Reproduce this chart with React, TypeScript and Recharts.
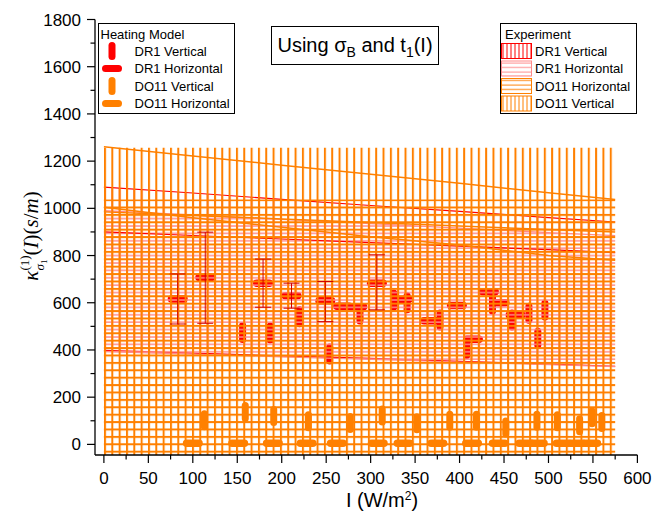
import React from 'react';
import { ComposedChart, Area, Line, Scatter, ErrorBar, XAxis, YAxis } from 'recharts';

// experiment bands, sampled at these intensities
const expX = [0, 100, 200, 300, 400, 500, 575];
const do11VertLow = [-45, -45, -45, -45, -45, -45, -45];
const do11VertHigh = [1257, 1257, 1257, 1257, 1257, 1257, 1257];
const do11HorLow = [-45, -45, -45, -45, -45, -45, -45];
const do11HorHigh = [1037, 1037, 1037, 1037, 1037, 1037, 1037];
const dr1VertLow = [398, 387, 375, 364, 352, 340, 331];
const dr1VertHigh = [1090, 1065, 1038, 1012, 987, 961, 942];
const dr1HorLow = [393, 382, 371, 360, 349, 338, 329];
const dr1HorHigh = [990, 972, 953, 935, 916, 897, 884];
const do11EdgeA = [1261, 1222, 1183, 1144, 1106, 1066, 1037];
const do11EdgeB = [1005, 960, 920, 880, 845, 800, 780];
const do11EdgeC = [985, 970, 955, 940, 925, 910, 900];
const dr1EdgeB = [900, 885, 870, 855, 840, 825, 812];

// heating model
const dr1HorX = [83, 114, 179, 211, 249, 269, 285, 307, 336, 367, 397, 415, 433, 445, 463];
const dr1HorY = [616, 707, 683, 630, 608, 585, 583, 683, 615, 524, 588, 445, 647, 600, 548];
const dr1ErrX = [83, 114, 179, 211, 249, 307];
const dr1ErrY = [616, 707, 683, 630, 608, 683];
const dr1ErrLow = [510, 513, 581, 577, 520, 570];
const dr1ErrHigh = [722, 899, 785, 683, 690, 803];
const dr1VertX = [156, 187, 220, 254, 288, 326, 341, 378, 408, 437, 459, 478, 488, 496];
const dr1VertY = [474, 472, 541, 383, 552, 612, 600, 527, 406, 594, 527, 556, 450, 569];
const do11HorX = [100, 151, 190, 228, 262, 308, 337, 375, 414, 444, 474, 488, 516, 532, 548];
const do11HorY = [5, 5, 5, 5, 5, 5, 5, 5, 5, 5, 5, 5, 5, 5, 5];
const do11VertX = [113, 159, 191, 230, 277, 313, 352, 389, 419, 452, 487, 510, 535, 549, 560];
const do11VertY = [102, 137, 120, 98, 91, 122, 89, 100, 100, 72, 100, 98, 81, 115, 95];

const xTicks = [0, 25, 50, 75, 100, 125, 150, 175, 200, 225, 250, 275, 300, 325, 350, 375, 400, 425, 450, 475, 500, 525, 550, 575, 600];
const yTicks = [0, 100, 200, 300, 400, 500, 600, 700, 800, 900, 1000, 1100, 1200, 1300, 1400, 1500, 1600, 1700, 1800];

const bandRows = expX.map((x, i) => ({
  x,
  do11V: [do11VertLow[i], do11VertHigh[i]],
  do11H: [do11HorLow[i], do11HorHigh[i]],
  dr1V: [dr1VertLow[i], dr1VertHigh[i]],
  dr1H: [dr1HorLow[i], dr1HorHigh[i]],
  edgeA: do11EdgeA[i],
  edgeB: do11EdgeB[i],
  edgeC: do11EdgeC[i],
  edgeR: dr1EdgeB[i],
}));

const pts = (xs: number[], ys: number[]) => xs.map((x, i) => ({ x, y: ys[i] }));
const dr1HorPts = pts(dr1HorX, dr1HorY);
const dr1VertPts = pts(dr1VertX, dr1VertY);
const do11HorPts = pts(do11HorX, do11HorY);
const do11VertPts = pts(do11VertX, do11VertY);
const dr1ErrPts = dr1ErrX.map((x, i) => ({ x, y: dr1ErrY[i], err: [dr1ErrY[i] - dr1ErrLow[i], dr1ErrHigh[i] - dr1ErrY[i]] }));

const ORANGE = '#FF8000';
const RED = '#FF0000';
const PINK = '#FF8A8A';
const SANS = '"Liberation Sans", Arial, sans-serif';
const SERIF = '"Liberation Serif", "Times New Roman", serif';

const capsule = (w: number, h: number, color: string) => (p: any) => {
  if (p.cx == null || p.cy == null) return <g />;
  const r = Math.min(w, h) / 2;
  return <rect x={p.cx - w / 2} y={p.cy - h / 2} width={w} height={h} rx={r} ry={r} fill={color} />;
};
const noShape = () => <g />;

const BottomTick = (p: any) => {
  const v = p.payload.value;
  const major = v % 50 === 0;
  return (
    <g>
      <line x1={p.x} x2={p.x} y1={p.y} y2={p.y + (major ? 8 : 4.5)} stroke="#000" strokeWidth={1.2} />
      {major && <text x={p.x} y={p.y + 28.5} textAnchor="middle" fontSize={17} fontFamily={SANS} fill="#000">{v}</text>}
    </g>
  );
};
const TopTick = (p: any) => {
  const major = p.payload.value % 50 === 0;
  return <line x1={p.x} x2={p.x} y1={p.y} y2={p.y + (major ? 8 : 4.5)} stroke="#000" strokeWidth={1.2} />;
};
const LeftTick = (p: any) => {
  const v = p.payload.value;
  const major = v % 200 === 0;
  return (
    <g>
      <line x1={p.x} x2={p.x - (major ? 8 : 4.5)} y1={p.y} y2={p.y} stroke="#000" strokeWidth={1.2} />
      {major && <text x={p.x - 14} y={p.y + 6} textAnchor="end" fontSize={17} fontFamily={SANS} fill="#000">{v}</text>}
    </g>
  );
};
const RightTick = (p: any) => {
  const major = p.payload.value % 200 === 0;
  return <line x1={p.x} x2={p.x - (major ? 8 : 4.5)} y1={p.y} y2={p.y} stroke="#000" strokeWidth={1.2} />;
};

const legendRows = [51, 68.5, 86, 103.5];

export default function App() {
  return (
    <div style={{ position: 'absolute', left: 0, top: 0, width: 653, height: 511, background: '#fff' }}>
      <svg width={0} height={0} style={{ position: 'absolute' }}>
        <defs>
          <pattern id="patOV" patternUnits="userSpaceOnUse" x={104} y={0} width={7.33} height={10}>
            <line x1={1} y1={0} x2={1} y2={10} stroke={ORANGE} strokeWidth={2} />
          </pattern>
          <pattern id="patRV" patternUnits="userSpaceOnUse" x={104} y={0} width={7.33} height={10}>
            <line x1={1} y1={0} x2={1} y2={10} stroke={RED} strokeWidth={1.2} />
          </pattern>
          <pattern id="patOH" patternUnits="userSpaceOnUse" x={0} y={450.7} width={10} height={7.4}>
            <line x1={0} y1={1} x2={10} y2={1} stroke={ORANGE} strokeWidth={2} />
          </pattern>
          <pattern id="patPH" patternUnits="userSpaceOnUse" x={0} y={447} width={10} height={7.4}>
            <line x1={0} y1={1} x2={10} y2={1} stroke={PINK} strokeWidth={1.5} />
          </pattern>
        </defs>
      </svg>

      <ComposedChart width={653} height={511} data={bandRows} margin={{ top: 19.5, right: 15.6, bottom: 0, left: 0 }}>
        <Scatter xAxisId="b" yAxisId="l" data={do11HorPts} shape={capsule(20, 7.5, ORANGE)} isAnimationActive={false} zIndex={50} />
        <Scatter xAxisId="b" yAxisId="l" data={do11VertPts} shape={capsule(7, 20, ORANGE)} isAnimationActive={false} zIndex={50} />
        <Scatter xAxisId="b" yAxisId="l" data={dr1ErrPts} shape={noShape} isAnimationActive={false} zIndex={50}>
          <ErrorBar dataKey="err" direction="y" width={8} stroke="#D00000" strokeWidth={1} isAnimationActive={false} />
        </Scatter>
        <Scatter xAxisId="b" yAxisId="l" data={dr1HorPts} shape={capsule(20, 7.5, RED)} isAnimationActive={false} zIndex={51} />
        <Scatter xAxisId="b" yAxisId="l" data={dr1VertPts} shape={capsule(7, 21, RED)} isAnimationActive={false} zIndex={51} />

        <Area xAxisId="b" yAxisId="l" type="linear" dataKey="dr1V" stroke={RED} strokeWidth={1.2} fill="url(#patRV)" fillOpacity={1} isAnimationActive={false} zIndex={60} />
        <Area xAxisId="b" yAxisId="l" type="linear" dataKey="dr1H" stroke={PINK} strokeWidth={1.2} fill="url(#patPH)" fillOpacity={1} isAnimationActive={false} zIndex={70} />
        <Line xAxisId="b" yAxisId="l" type="linear" dataKey="edgeR" stroke={RED} strokeWidth={1.2} dot={false} isAnimationActive={false} zIndex={80} />
        <Line xAxisId="b" yAxisId="l" type="linear" dataKey="edgeC" stroke={ORANGE} strokeWidth={1.5} dot={false} isAnimationActive={false} zIndex={80} />
        <Line xAxisId="b" yAxisId="l" type="linear" dataKey="edgeB" stroke={ORANGE} strokeWidth={1.5} dot={false} isAnimationActive={false} zIndex={80} />
        <Line xAxisId="b" yAxisId="l" type="linear" dataKey="edgeA" stroke={ORANGE} strokeWidth={1.5} dot={false} isAnimationActive={false} zIndex={80} />
        <Area xAxisId="b" yAxisId="l" type="linear" dataKey="do11H" stroke="none" fill="url(#patOH)" fillOpacity={1} isAnimationActive={false} zIndex={90} />
        <Area xAxisId="b" yAxisId="l" type="linear" dataKey="do11V" stroke="none" fill="url(#patOV)" fillOpacity={1} isAnimationActive={false} zIndex={100} />

        <XAxis xAxisId="b" dataKey="x" type="number" domain={[-10, 600]} allowDataOverflow ticks={xTicks} interval={0}
          height={56} tickSize={0} tickMargin={0} tickLine={false} tick={<BottomTick />}
          axisLine={{ stroke: '#000', strokeWidth: 1.3 }} />
        <XAxis xAxisId="t" orientation="top" dataKey="x" type="number" domain={[-10, 600]} allowDataOverflow ticks={xTicks} interval={0}
          height={0} tickSize={0} tickMargin={0} tickLine={false} tick={<TopTick />}
          axisLine={{ stroke: '#000', strokeWidth: 1.3 }} />
        <YAxis yAxisId="l" dataKey="y" type="number" domain={[-45, 1800]} allowDataOverflow ticks={yTicks} interval={0}
          width={95} tickSize={0} tickMargin={0} tickLine={false} tick={<LeftTick />}
          axisLine={{ stroke: '#000', strokeWidth: 1.3 }} />
        <YAxis yAxisId="r" orientation="right" dataKey="y" type="number" domain={[-45, 1800]} allowDataOverflow ticks={yTicks} interval={0}
          width={0} tickSize={0} tickMargin={0} tickLine={false} tick={<RightTick />}
          axisLine={{ stroke: '#000', strokeWidth: 1.3 }} />
      </ComposedChart>

      <svg width={653} height={511} style={{ position: 'absolute', left: 0, top: 0, pointerEvents: 'none' }}>
        <defs>
          <pattern id="lgRV" patternUnits="userSpaceOnUse" x={501} y={0} width={4} height={4}>
            <line x1={2} y1={0} x2={2} y2={4} stroke={RED} strokeWidth={1} />
          </pattern>
          <pattern id="lgPH" patternUnits="userSpaceOnUse" x={0} y={61} width={4} height={4.5}>
            <line x1={0} y1={2} x2={4} y2={2} stroke={PINK} strokeWidth={1} />
          </pattern>
          <pattern id="lgOH" patternUnits="userSpaceOnUse" x={0} y={78.5} width={4} height={4.5}>
            <line x1={0} y1={2} x2={4} y2={2} stroke={ORANGE} strokeWidth={1} />
          </pattern>
          <pattern id="lgOV" patternUnits="userSpaceOnUse" x={501} y={0} width={4} height={4}>
            <line x1={2} y1={0} x2={2} y2={4} stroke={ORANGE} strokeWidth={1} />
          </pattern>
        </defs>

        {/* y axis title */}
        <text transform="rotate(-90 38 236)" x={38} y={236} textAnchor="middle" fontFamily={SERIF} fontSize={21} fill="#000">
          <tspan fontStyle="italic">κ</tspan>
          <tspan fontSize={13} dy={-9}>(1)</tspan>
          <tspan fontSize={13} fontStyle="italic" dx={-15} dy={15}>σ</tspan>
          <tspan fontSize={9} dy={3}>1</tspan>
          <tspan dx={4} dy={-9}>(</tspan>
          <tspan fontStyle="italic">I</tspan>
          <tspan>)(</tspan>
          <tspan fontStyle="italic">s</tspan>
          <tspan>/</tspan>
          <tspan fontStyle="italic">m</tspan>
          <tspan>)</tspan>
        </text>

        {/* x axis title */}
        <text x={382} y={507} textAnchor="middle" fontFamily={SANS} fontSize={20} fill="#000">
          I (W/m<tspan fontSize={12} dy={-7}>2</tspan><tspan dy={7}>)</tspan>
        </text>

        {/* title box */}
        <rect x={271.5} y={26.5} width={167} height={38} fill="#fff" stroke="#000" strokeWidth={1} />
        <text x={355} y={52} textAnchor="middle" fontFamily={SANS} fontSize={20} fill="#000">
          Using σ<tspan fontSize={14} dy={5}>B</tspan><tspan dy={-5}> and t</tspan><tspan fontSize={14} dy={5}>1</tspan><tspan dy={-5}>(I)</tspan>
        </text>

        {/* heating model legend */}
        <rect x={98.5} y={23.5} width={136} height={90} fill="#fff" stroke="#000" strokeWidth={1} />
        <text x={100.5} y={38.5} fontFamily={SANS} fontSize={13} fill="#000">Heating Model</text>
        <rect x={108.5} y={legendRows[0] - 9} width={7} height={18} rx={3.5} fill={RED} />
        <rect x={102} y={legendRows[1] - 3.5} width={20} height={7} rx={3.5} fill={RED} />
        <rect x={108.5} y={legendRows[2] - 9} width={7} height={18} rx={3.5} fill={ORANGE} />
        <rect x={102} y={legendRows[3] - 3.5} width={20} height={7} rx={3.5} fill={ORANGE} />
        {['DR1 Vertical', 'DR1 Horizontal', 'DO11 Vertical', 'DO11 Horizontal'].map((t, i) => (
          <text key={t} x={134.5} y={legendRows[i] + 4.5} fontFamily={SANS} fontSize={13} fill="#000">{t}</text>
        ))}

        {/* experiment legend */}
        <rect x={500.5} y={23.5} width={136} height={90} fill="#fff" stroke="#000" strokeWidth={1} />
        <text x={505} y={38.5} fontFamily={SANS} fontSize={13} fill="#000">Experiment</text>
        <rect x={501.5} y={legendRows[0] - 7.5} width={30} height={15} fill="url(#lgRV)" stroke={RED} strokeWidth={1} />
        <rect x={501.5} y={legendRows[1] - 7.5} width={30} height={15} fill="url(#lgPH)" stroke={PINK} strokeWidth={1} />
        <rect x={501.5} y={legendRows[2] - 7.5} width={30} height={15} fill="url(#lgOH)" stroke={ORANGE} strokeWidth={1} />
        <rect x={501.5} y={legendRows[3] - 7.5} width={30} height={15} fill="url(#lgOV)" stroke={ORANGE} strokeWidth={1} />
        {['DR1 Vertical', 'DR1 Horizontal', 'DO11 Horizontal', 'DO11 Vertical'].map((t, i) => (
          <text key={t} x={535} y={legendRows[i] + 4.5} fontFamily={SANS} fontSize={13} fill="#000">{t}</text>
        ))}
      </svg>
    </div>
  );
}
